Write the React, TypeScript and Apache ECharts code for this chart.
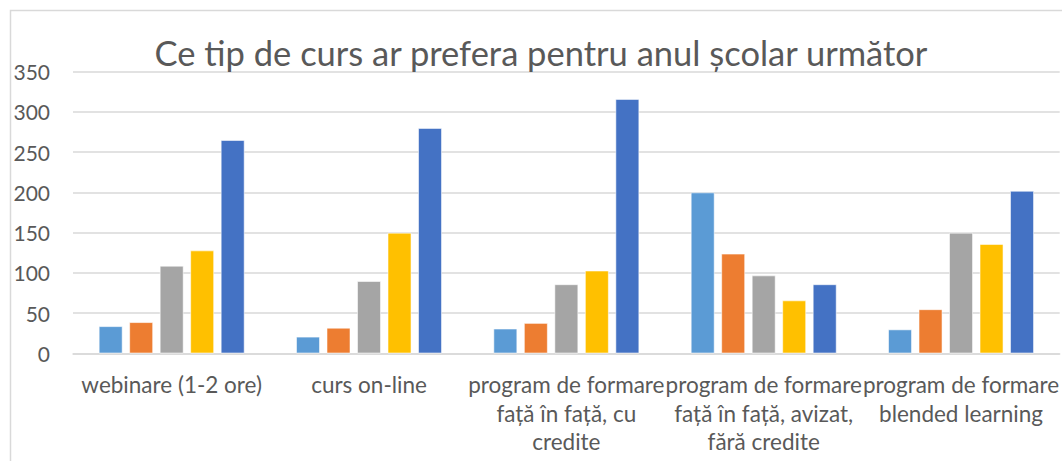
import React, { useEffect, useRef } from "react";
import * as echarts from "echarts";

const title = "Ce tip de curs ar prefera pentru anul școlar următor";
const categories = [
  "webinare (1-2 ore)",
  "curs on-line",
  "program de formare\nfață în față, cu\ncredite",
  "program de formare\nfață în față, avizat,\nfără credite",
  "program de formare\nblended learning",
];
const seriesNames = ["1", "2", "3", "4", "5"];
const s1 = [34, 21, 31, 200, 30];
const s2 = [39, 32, 38, 124, 55];
const s3 = [109, 90, 86, 97, 150];
const s4 = [128, 150, 103, 66, 136];
const s5 = [265, 280, 316, 86, 202];
const colors = ["#5B9BD5", "#ED7D31", "#A5A5A5", "#FFC000", "#4472C4"];
const yTicks = { min: 0, max: 350, interval: 50 };

export default function App() {
  const ref = useRef<HTMLDivElement>(null);
  useEffect(() => {
    if (!ref.current) return;
    const chart = echarts.init(ref.current, undefined, { renderer: "svg" });
    const data = [s1, s2, s3, s4, s5];
    chart.setOption({
      animation: false,
      title: {
        text: title,
        left: 536,
        textAlign: "center",
        top: 30,
        textStyle: {
          fontFamily: "Lato",
          fontSize: 34.5,
          fontWeight: "normal",
          color: "#595959",
        },
      },
      graphic: [
        {
          type: "rect",
          shape: { x: 10.5, y: 10.5, width: 1200, height: 600 },
          style: { fill: "none", stroke: "#D9D9D9", lineWidth: 1.5 },
          silent: true,
        },
      ],
      grid: { left: 73, right: 1, top: 71.5, bottom: 107.5, containLabel: false },
      xAxis: {
        type: "category",
        data: categories,
        axisLine: { show: true, lineStyle: { color: "#D9D9D9", width: 1.5 } },
        axisTick: { show: false },
        axisLabel: {
          interval: 0,
          margin: 17,
          fontFamily: "Lato",
          fontSize: 22.5,
          lineHeight: 28.5,
          color: "#595959",
          align: "center",
        },
      },
      yAxis: {
        type: "value",
        min: yTicks.min,
        max: yTicks.max,
        interval: yTicks.interval,
        axisLine: { show: false },
        axisTick: { show: false },
        splitLine: { lineStyle: { color: "#D9D9D9", width: 1.5 } },
        axisLabel: {
          margin: 23,
          fontFamily: "Lato",
          fontSize: 21,
          color: "#595959",
        },
      },
      series: data.map((d, i) => ({
        name: seriesNames[i],
        type: "bar",
        data: d,
        barGap: "27%",
        barCategoryGap: "26%",
        itemStyle: {
          color: colors[i],
          borderColor: "rgba(255,255,255,0.55)",
          borderWidth: 1,
        },
      })),
    });
    return () => chart.dispose();
  }, []);
  return (
    <div
      ref={ref}
      style={{ position: "fixed", left: 0, top: 0, width: 1062, height: 461, background: "#fff" }}
    />
  );
}
